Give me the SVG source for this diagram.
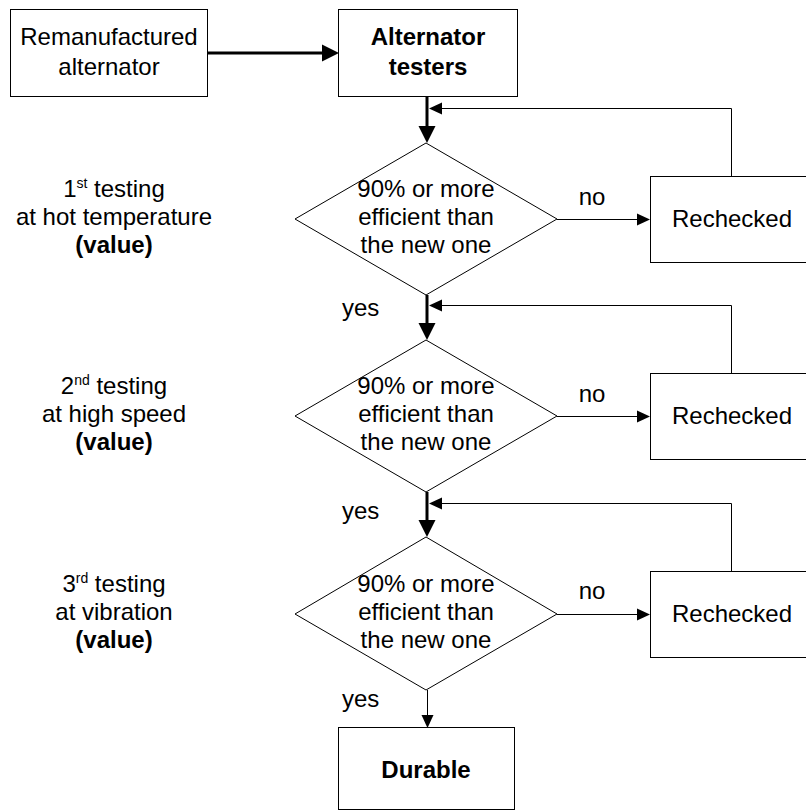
<svg xmlns="http://www.w3.org/2000/svg" width="806" height="812" viewBox="0 0 806 812">
<style>
text{font-family:"Liberation Sans",Arial,Helvetica,sans-serif;font-size:24px;fill:#000;text-anchor:middle}
.b{font-weight:bold}
.sup{font-size:14px}
.shape{fill:#fff;stroke:#000;stroke-width:1}
.thick{fill:none;stroke:#000;stroke-width:3}
.thin{fill:none;stroke:#000;stroke-width:1}
.lab{text-anchor:start}
</style>
<defs>
<marker id="ah" markerUnits="userSpaceOnUse" markerWidth="17" markerHeight="17" refX="0" refY="8.5" orient="auto" overflow="visible">
<path d="M0,0 L17,8.5 L0,17 Z" fill="#000"/>
</marker>
<marker id="as" markerUnits="userSpaceOnUse" markerWidth="13" markerHeight="12" refX="0" refY="6" orient="auto" overflow="visible">
<path d="M0,0 L13,6 L0,12 Z" fill="#000"/>
</marker>
</defs>
<rect width="806" height="812" fill="#fff"/>

<g id="connectors">
<path class="thick" d="M207,53 H322" marker-end="url(#ah)"/>
<path class="thick" d="M427,97 V126" marker-end="url(#ah)"/>
<path class="thick" d="M427,295 V323" marker-end="url(#ah)"/>
<path class="thick" d="M427,492 V520" marker-end="url(#ah)"/>
<path class="thin" d="M427.5,690 V715" marker-end="url(#as)"/>
<path class="thin" d="M557,219.5 H637" marker-end="url(#as)"/>
<path class="thin" d="M557,416.5 H637" marker-end="url(#as)"/>
<path class="thin" d="M557,614.5 H637" marker-end="url(#as)"/>
<path class="thin" d="M731.5,176 V108.5 H442" marker-end="url(#as)"/>
<path class="thin" d="M731.5,373 V305.5 H442" marker-end="url(#as)"/>
<path class="thin" d="M731.5,571 V503.5 H442" marker-end="url(#as)"/>
<text class="lab" x="342" y="316">yes</text>
<text class="lab" x="342" y="519">yes</text>
<text class="lab" x="342" y="707">yes</text>
<text x="592" y="205">no</text>
<text x="592" y="402">no</text>
<text x="592" y="599">no</text>
</g>

<g id="remanufactured">
<rect class="shape" x="10.5" y="9.5" width="197" height="87"/>
<text x="109" y="45">Remanufactured</text>
<text x="109" y="75">alternator</text>
</g>

<g id="testers">
<rect class="shape" x="338.5" y="9.5" width="179" height="87"/>
<text class="b" x="428" y="45">Alternator</text>
<text class="b" x="428" y="75">testers</text>
</g>

<g id="label1">
<text x="114" y="197">1<tspan class="sup" dy="-9">st</tspan><tspan dy="9"> testing</tspan></text>
<text x="114" y="225">at hot temperature</text>
<text class="b" x="114" y="253">(value)</text>
</g>
<g id="decision1">
<polygon class="shape" points="426,143 557,219 426,295 295,219"/>
<text x="426" y="197">90% or more</text>
<text x="426" y="225">efficient than</text>
<text x="426" y="253">the new one</text>
</g>
<g id="recheck1">
<rect class="shape" x="650.5" y="176.5" width="170" height="86"/>
<text x="732" y="227">Rechecked</text>
</g>

<g id="label2">
<text x="114" y="394">2<tspan class="sup" dy="-9">nd</tspan><tspan dy="9"> testing</tspan></text>
<text x="114" y="422">at high speed</text>
<text class="b" x="114" y="450">(value)</text>
</g>
<g id="decision2">
<polygon class="shape" points="426,340 557,416 426,492 295,416"/>
<text x="426" y="394">90% or more</text>
<text x="426" y="422">efficient than</text>
<text x="426" y="450">the new one</text>
</g>
<g id="recheck2">
<rect class="shape" x="650.5" y="373.5" width="170" height="86"/>
<text x="732" y="424">Rechecked</text>
</g>

<g id="label3">
<text x="114" y="592">3<tspan class="sup" dy="-9">rd</tspan><tspan dy="9"> testing</tspan></text>
<text x="114" y="620">at vibration</text>
<text class="b" x="114" y="648">(value)</text>
</g>
<g id="decision3">
<polygon class="shape" points="426,537 557,614 426,690 295,614"/>
<text x="426" y="592">90% or more</text>
<text x="426" y="620">efficient than</text>
<text x="426" y="648">the new one</text>
</g>
<g id="recheck3">
<rect class="shape" x="650.5" y="571.5" width="170" height="86"/>
<text x="732" y="622">Rechecked</text>
</g>

<g id="durable">
<rect class="shape" x="338.5" y="727.5" width="176" height="82"/>
<text class="b" x="426" y="778">Durable</text>
</g>
</svg>
